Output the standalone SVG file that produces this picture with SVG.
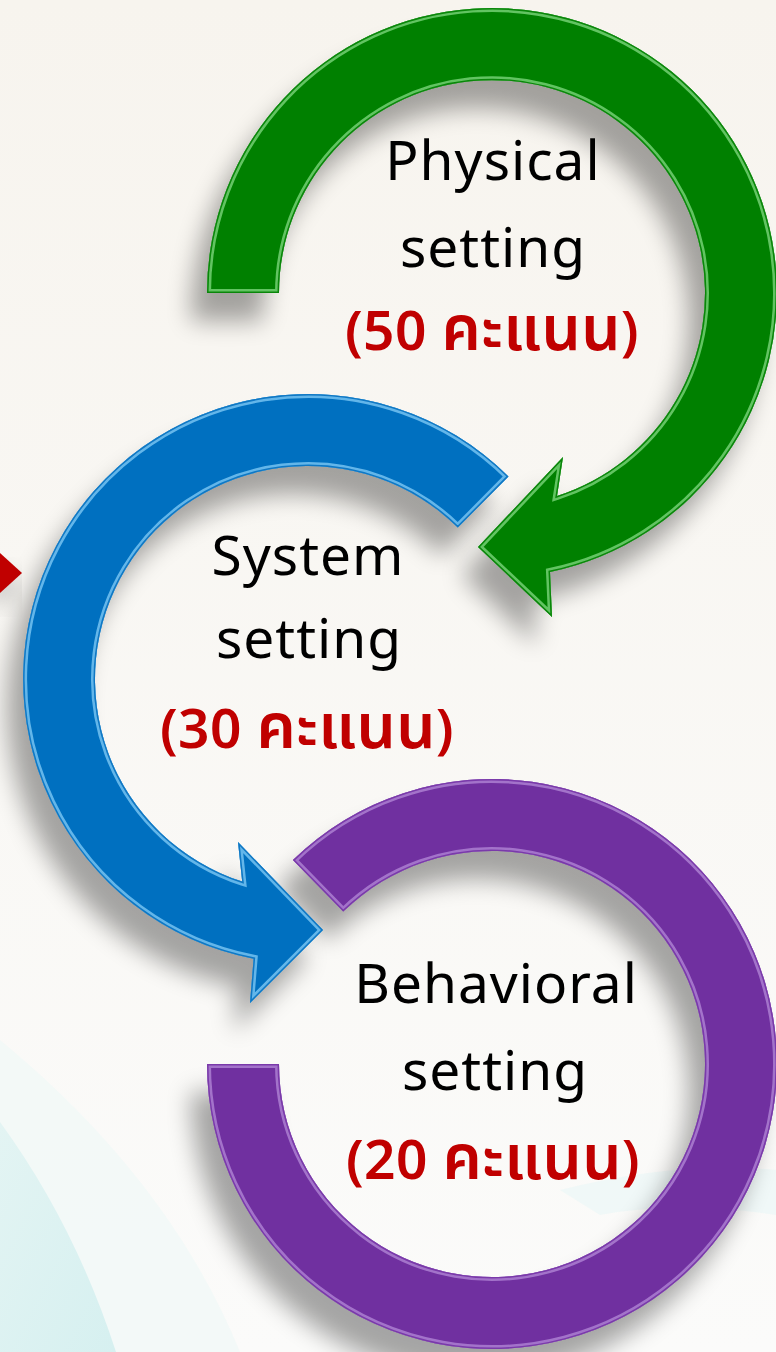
<svg xmlns="http://www.w3.org/2000/svg" xmlns:xlink="http://www.w3.org/1999/xlink" width="776" height="1352" viewBox="0 0 776 1352">
<defs>
<style>
.lbl{font-family:"Noto Sans Thai","Noto Sans","DejaVu Sans",sans-serif;font-size:55px;letter-spacing:1px;fill:#000;text-anchor:middle}
.pts{font-family:"Noto Sans Thai","Noto Sans","DejaVu Sans",sans-serif;font-size:55px;font-weight:600;letter-spacing:0.4px;fill:#C00000;text-anchor:middle}
.th{font-size:62px}
.shadow{fill:#000;opacity:0.34}
</style>
<linearGradient id="bg" x1="0" y1="0" x2="0" y2="1">
<stop offset="0" stop-color="#F7F4EE"/>
<stop offset="1" stop-color="#FBFBFA"/>
</linearGradient>
<linearGradient id="teal" x1="0" y1="0" x2="1" y2="1">
<stop offset="0" stop-color="#E3F4F3"/>
<stop offset="1" stop-color="#D6F0F0"/>
</linearGradient>
<filter id="blur" x="-25%" y="-25%" width="150%" height="150%">
<feGaussianBlur stdDeviation="12"/>
</filter>
<path id="pGreen" d="M207,293 A285,285 0 1 1 550,572 L552,617 L478,547 L563,457 L557,496 A213,213 0 1 0 279,293 Z"/>
<path id="pBlue" d="M508.5,476.4 A285,285 0 1 0 253.6,958.8 L250,1003 L323,930 L238,842 L242.2,881.6 A213,213 0 1 1 457.8,527.6 Z"/>
<path id="pPurple" d="M292.9,860.1 A285,285 0 1 1 207,1064 L279,1064 A213,213 0 1 0 343.2,911.6 Z"/>
<path id="pRed" d="M0,553 L22,573 L0,593 Z"/>
<clipPath id="cGreen"><use xlink:href="#pGreen"/></clipPath>
<clipPath id="cBlue"><use xlink:href="#pBlue"/></clipPath>
<clipPath id="cPurple"><use xlink:href="#pPurple"/></clipPath>
</defs>

<g id="background">
<rect x="0" y="0" width="776" height="1352" fill="url(#bg)"/>
<path d="M0,1040 Q170,1180 240,1352 L0,1352 Z" fill="#EEF8F7" opacity="0.6"/>
<path d="M0,1122 Q75,1225 116,1352 L0,1352 Z" fill="url(#teal)"/>
<path d="M560,1190 Q680,1160 776,1170 L776,1215 Q680,1200 600,1215 Z" fill="#EAF6F6" opacity="0.6"/>
</g>

<g id="red-arrow">
<use xlink:href="#pRed" class="shadow" filter="url(#blur)" transform="translate(-6,14)"/>
<use xlink:href="#pRed" fill="#C00000"/>
</g>

<g id="node-behavioral">
<use xlink:href="#pPurple" class="shadow" filter="url(#blur)" transform="translate(-16,28)"/>
<use xlink:href="#pPurple" fill="#7030A0"/>
<g clip-path="url(#cPurple)">
<use xlink:href="#pPurple" fill="none" stroke="#B48AD8" stroke-width="8" opacity="0.75"/>
<use xlink:href="#pPurple" fill="none" stroke="#7A3AAA" stroke-width="3"/>
</g>
<text class="lbl" x="496" y="1003">Behavioral</text>
<text class="lbl" x="495" y="1090">setting</text>
<text class="pts" x="493" y="1179">(20 <tspan class="th">คะแนน</tspan>)</text>
</g>

<g id="node-system">
<use xlink:href="#pBlue" class="shadow" filter="url(#blur)" transform="translate(-16,28)"/>
<use xlink:href="#pBlue" fill="#0070C0"/>
<g clip-path="url(#cBlue)">
<use xlink:href="#pBlue" fill="none" stroke="#7CC8F4" stroke-width="8" opacity="0.8"/>
<use xlink:href="#pBlue" fill="none" stroke="#1078C4" stroke-width="3"/>
</g>
<text class="lbl" x="308" y="575">System</text>
<text class="lbl" x="309" y="658">setting</text>
<text class="pts" x="307" y="748">(30 <tspan class="th">คะแนน</tspan>)</text>
</g>

<g id="node-physical">
<use xlink:href="#pGreen" class="shadow" filter="url(#blur)" transform="translate(-16,28)"/>
<use xlink:href="#pGreen" fill="#008000"/>
<g clip-path="url(#cGreen)">
<use xlink:href="#pGreen" fill="none" stroke="#7AD47A" stroke-width="8" opacity="0.8"/>
<use xlink:href="#pGreen" fill="none" stroke="#0A860A" stroke-width="3"/>
</g>
<text class="lbl" x="493" y="180">Physical</text>
<text class="lbl" x="493" y="267">setting</text>
<text class="pts" x="492" y="350">(50 <tspan class="th">คะแนน</tspan>)</text>
</g>

<g id="connectors"></g>
</svg>
